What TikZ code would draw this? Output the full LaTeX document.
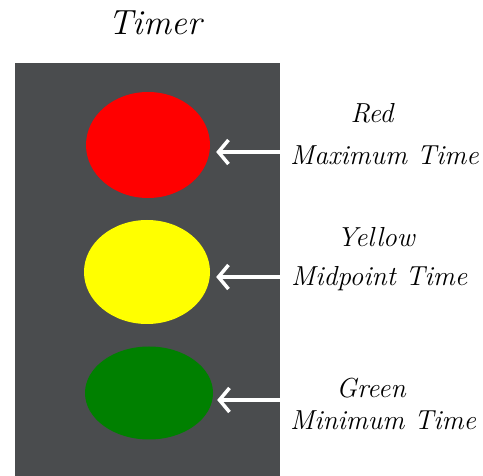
\documentclass[tikz,border=0pt]{standalone}
\usetikzlibrary{arrows.meta,shapes.geometric}
\definecolor{boxgray}{RGB}{74,76,78}
\definecolor{lightred}{RGB}{255,0,0}
\definecolor{lightyellow}{RGB}{255,255,0}
\definecolor{lightgreen}{RGB}{0,128,0}
\tikzset{
  lamp/.style={ellipse, draw=none, inner sep=0pt},
  lbl/.style={inner sep=0pt, font=\fontsize{27.5}{32}\selectfont\itshape},
  arr/.style={draw=white, line width=3.5pt, -{Straight Barb[length=10pt, width=24pt, line width=3.5pt]}}
}
\begin{document}
\begin{tikzpicture}[x=1pt, y=-1pt]
\useasboundingbox (0,0) rectangle (483,476);
\fill[white] (0,0) rectangle (483,476);
\fill[boxgray] (15,63) rectangle (280,476);
\node[inner sep=0pt, anchor=base, font=\fontsize{35}{38}\selectfont\itshape] (title) at (155,35) {Timer};
\node[lamp, fill=lightred, minimum width=124pt, minimum height=106pt] (red) at (148,145) {};
\node[lamp, fill=lightyellow, minimum width=126pt, minimum height=104pt] (yellow) at (147,272) {};
\node[lamp, fill=lightgreen, minimum width=128pt, minimum height=93pt] (green) at (149,393) {};
\coordinate (ra) at (280,152);
\coordinate (ya) at (280,277);
\coordinate (ga) at (280,400);
\draw[arr] (ra) -- ([xshift=6pt]ra -| red.east);
\draw[arr] (ya) -- ([xshift=6pt]ya -| yellow.east);
\draw[arr] (ga) -- ([xshift=4pt]ga -| green.east);
\node[lbl, anchor=base] (tred) at (372,123) {Red};
\node[lbl, anchor=base west] (tmax) at (290,165) {Maximum Time};
\node[lbl, anchor=base] (tyel) at (376,247) {Yellow};
\node[lbl, anchor=base west] (tmid) at (291,286) {Midpoint Time};
\node[lbl, anchor=base] (tgrn) at (371,398) {Green};
\node[lbl, anchor=base west] (tmin) at (290,430) {Minimum Time};
\end{tikzpicture}
\end{document}
